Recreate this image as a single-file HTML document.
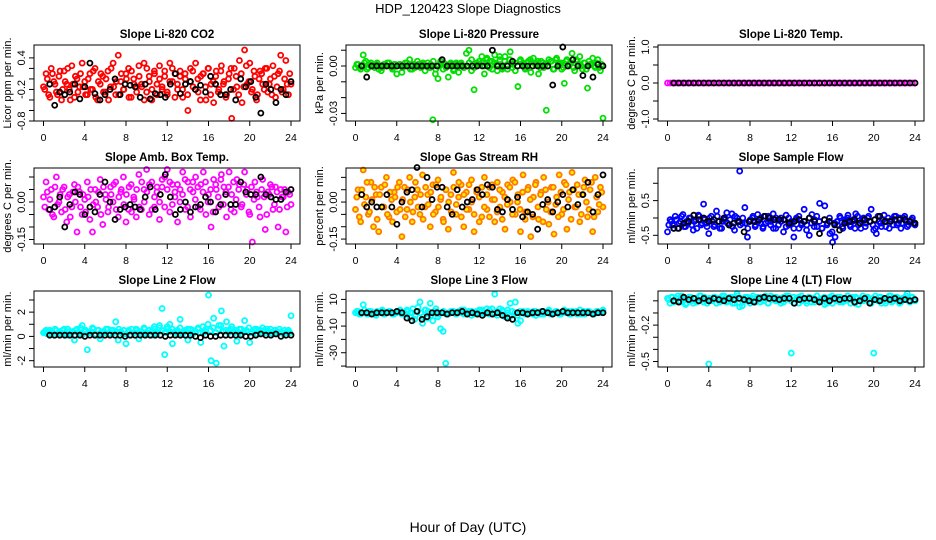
<!DOCTYPE html>
<html><head><meta charset="utf-8"><style>
html,body{margin:0;padding:0;background:#fff}
svg{display:block;font-family:"Liberation Sans",sans-serif}
</style></head><body>
<svg id="chart" width="936" height="540" viewBox="0 0 936 540" xmlns="http://www.w3.org/2000/svg">
<rect x="0" y="0" width="936" height="540" fill="#fff"/>
<text x="468" y="13" text-anchor="middle" font-size="13">HDP_120423  Slope Diagnostics</text>
<text x="468" y="532" text-anchor="middle" font-size="14">Hour of Day (UTC)</text>
</svg>
<script>
const xTicks=[0,4,8,12,16,20,24];
const co2All=[-0.15,0.1,-0.3,0.2,-0.05,-0.25,0.05,-0.4,0.15,-0.1,-0.2,0.25,-0.35,0.0,-0.15,0.3,-0.05,-0.3,0.1,-0.2,0.2,-0.4,-0.1,0.05,-0.25,0.15,-0.15,0.3,-0.3,0.45,-0.05,-0.2,0.1,0.2,-0.35,0.0,-0.15,0.25,-0.1,0.3,-0.25,0.05,-0.4,0.15,-0.1,0.25,-0.2,0.05,-0.3,0.3,-0.05,0.1,-0.2,0.15,-0.35,0.0,-0.6,0.2,-0.15,0.3,-0.25,0.05,0.1,-0.4,0.2,-0.1,-0.45,0.15,-0.2,0.25,-0.05,-0.3,0.1,-0.75,0.2,-0.15,0.35,-0.45,0.55,-0.1,0.3,-0.2,0.05,-0.3,0.15,-0.1,0.2,-0.25,0.0,0.25,-0.35,0.1,0.45,-0.2,0.35,-0.3,-0.1];
const co2AllB=[-0.2,0.0,-0.35,0.1,-0.1,-0.3,0.15,-0.2,-0.05,0.2,-0.4,-0.1,0.05,-0.25,0.1,-0.15,-0.3,0.0,-0.2,0.15,-0.35,-0.05,0.1,-0.25,0.0,-0.4,0.2,-0.15,-0.05,-0.3,0.1,-0.2,0.0,-0.35,0.15,-0.1,-0.25,0.05,-0.15,-0.4,0.2,-0.05,-0.2,0.1,-0.3,0.0,-0.15,0.15,-0.25,-0.05,0.2,-0.35,-0.1,0.05,-0.2,0.1,-0.3,-0.05,0.15,-0.2,0.0,-0.4,0.1,-0.15,0.2,-0.3,-0.05,0.05,-0.25,0.15,-0.1,-0.35,0.0,0.2,-0.2,0.05,-0.3,0.1,-0.15,0.25,-0.05,-0.25,0.15,-0.4,0.0,0.1,-0.2,0.2,-0.1,-0.3,0.05,-0.15,0.15,-0.25,0.0,-0.1,0.1];
const co2Sel=[-0.1,-0.5,-0.25,-0.3,-0.25,-0.1,-0.38,-0.15,0.3,-0.28,-0.4,-0.3,-0.2,0.0,-0.3,-0.1,-0.12,-0.15,-0.35,-0.1,-0.38,-0.28,-0.3,-0.35,-0.1,0.1,-0.28,-0.1,-0.05,-0.2,-0.12,-0.25,0.05,-0.1,-0.3,-0.3,-0.2,-0.4,0.0,-0.15,-0.05,-0.35,-0.65,-0.1,-0.2,-0.45,-0.2,-0.3,-0.05];
const presAll=[-0.001,0.001,-0.002,0.007,0.003,-0.001,0.002,0,0.001,-0.002,-0.003,0.001,0,0.002,-0.001,0.001,-0.005,0.001,-0.004,0,0.002,0.004,-0.002,-0.001,0.003,0,0.001,-0.003,0.002,-0.001,-0.034,-0.005,-0.008,0.003,-0.002,0.001,-0.007,0.002,-0.003,0.001,-0.004,0.002,-0.001,0.008,0.01,-0.003,-0.015,0.002,0.001,0.006,-0.005,0.004,0.003,-0.002,0.007,-0.003,0.004,-0.001,0.006,-0.002,0.009,0.001,-0.003,-0.013,0.004,0.002,-0.001,0.003,-0.004,0.005,0.002,-0.005,0.003,-0.001,-0.028,0.004,0.003,-0.002,0.005,0.002,-0.002,-0.011,0.004,0.001,0.008,-0.003,0.003,0.006,-0.002,0.002,-0.014,0.001,0.005,-0.001,0.004,-0.003,-0.033];
const presAllB=[0.001,-0.001,0,0.002,-0.002,0.001,0,-0.001,0.002,0,-0.001,0.001,0.002,0,-0.002,0.001,0,0.001,-0.001,0.002,0,-0.002,0.001,0,0.001,-0.001,0.002,0,-0.001,0.001,0.003,-0.002,0,0.001,0.002,-0.001,0,0.001,-0.002,0.002,0,0.001,-0.001,0,0.002,0.004,-0.001,0.001,0.003,0.002,0,0.005,-0.001,0.003,0.002,0.001,0.006,-0.002,0.003,0.001,0.004,-0.001,0.002,0,0.003,0.001,-0.002,0.002,0.004,0,0.001,0.003,-0.001,0.002,0.001,0,0.003,-0.002,0.004,0.001,0.002,-0.001,0.003,0,0.002,-0.001,0.004,0.001,0,0.002,-0.002,0.003,0.001,0,0.002,-0.001,0.001];
const presSel=[0,-0.007,0,0,0,0,0,0,0,0,0,0,0,0,0,0,0.004,0,0,0,0,0,0,0,0,0,0.01,0,0,0,0.003,0,0,0,0,0,0,0,-0.012,0,0.012,0,0.004,0,-0.006,0,-0.007,0.001,0];
const tempAll=[0,0,0,0,0,0,0,0,0,0,0,0,0,0,0,0,0,0,0,0,0,0,0,0,0,0,0,0,0,0,0,0,0,0,0,0,0,0,0,0,0,0,0,0,0,0,0,0,0,0,0,0,0,0,0,0,0,0,0,0,0,0,0,0,0,0,0,0,0,0,0,0,0,0,0,0,0,0,0,0,0,0,0,0,0,0,0,0,0,0,0,0,0,0,0,0,0];
const tempAllB=[];
const tempSel=[0,0,0,0,0,0,0,0,0,0,0,0,0,0,0,0,0,0,0,0,0,0,0,0,0,0,0,0,0,0,0,0,0,0,0,0,0,0,0,0,0,0,0,0,0,0,0,0,0];
const ambAll=[0.02,0.08,-0.03,0.05,-0.06,0.1,0.0,-0.04,0.06,-0.08,0.03,-0.02,0.07,-0.12,0.04,-0.05,0.01,0.08,-0.07,-0.12,0.05,-0.02,0.09,-0.09,0.03,-0.04,0.06,0.0,0.08,-0.06,0.04,0.1,-0.08,-0.03,0.07,0.02,-0.06,0.11,-0.03,0.05,0.13,-0.05,0.08,-0.02,0.04,-0.07,0.06,0.1,0.13,-0.04,0.07,0.02,-0.08,0.05,0.12,-0.03,0.08,-0.06,0.04,0.1,-0.02,0.07,0.12,-0.05,0.03,-0.1,0.09,0.05,-0.02,0.11,0.06,-0.06,0.12,0.03,-0.04,0.09,0.07,-0.01,0.12,0.05,-0.05,-0.16,0.08,0.02,-0.06,0.09,-0.11,0.04,0.07,-0.03,0.06,-0.1,0.05,0.02,-0.12,0.04,-0.01];
const ambAllB=[-0.02,0.04,0.01,-0.05,0.06,-0.01,0.03,0.05,-0.03,0.02,-0.06,0.04,0.0,0.06,-0.02,0.03,-0.04,0.02,0.05,-0.01,0.0,0.04,-0.05,0.06,0.01,-0.02,0.03,0.07,-0.03,0.02,0.05,-0.01,0.03,0.06,-0.04,0.01,0.05,-0.02,0.08,0.0,0.04,0.07,-0.03,0.02,0.06,0.0,0.09,-0.02,0.05,0.08,-0.01,0.04,0.07,0.0,0.03,0.09,-0.02,0.05,0.08,0.01,0.06,-0.03,0.04,0.08,0.0,0.05,-0.04,0.07,0.02,0.09,-0.01,0.04,0.06,-0.03,0.08,0.01,0.05,-0.02,0.07,0.03,-0.04,0.06,0.01,0.04,-0.02,0.05,0.02,-0.05,0.03,0.06,-0.01,0.04,-0.03,0.02,0.05,-0.02,0.03];
const ambSel=[-0.03,-0.02,0.02,-0.1,-0.01,0.04,0.03,-0.05,-0.02,-0.04,0.03,0.08,0.0,-0.07,-0.03,-0.02,-0.01,-0.02,-0.03,0.02,0.06,-0.03,0.03,0.11,0.02,-0.05,-0.03,0.0,-0.04,-0.02,-0.01,0.02,0.0,-0.04,-0.01,0.03,-0.01,-0.01,0.08,0.04,0.03,0.03,0.1,0.03,0.02,0.01,0.01,0.04,0.05];
const rhAll=[-0.03,0.05,-0.08,0.13,0.02,-0.05,0.08,-0.1,0.03,-0.12,0.06,-0.02,0.1,-0.06,0.01,0.04,-0.04,0.08,-0.14,0.06,-0.03,0.1,-0.08,0.02,0.05,-0.05,0.11,-0.02,0.03,-0.1,0.07,-0.04,0.09,0.01,-0.07,0.05,-0.11,0.03,0.12,-0.05,0.02,0.07,-0.1,0.04,-0.03,0.09,-0.12,0.05,0.02,-0.06,0.1,-0.03,0.06,0.01,-0.08,0.08,-0.02,0.04,-0.11,0.07,0.0,0.09,-0.05,0.03,-0.12,0.11,-0.04,0.06,-0.14,0.02,0.08,-0.07,0.04,0.1,-0.03,-0.09,0.06,-0.13,0.02,0.11,-0.05,0.08,-0.11,0.04,0.12,-0.02,0.07,-0.08,0.03,0.09,-0.06,0.05,-0.12,0.1,-0.04,0.06,-0.02];
const rhAllB=[0.02,-0.06,0.05,-0.01,0.08,-0.04,0.01,0.06,-0.07,0.03,-0.02,0.07,-0.05,0.04,-0.08,0.02,0.06,-0.03,0.01,-0.06,0.05,0.0,-0.04,0.08,-0.02,0.03,-0.07,0.06,-0.01,0.04,-0.05,0.07,-0.02,0.02,-0.08,0.05,0.0,-0.04,0.06,-0.01,0.08,-0.06,0.03,-0.03,0.07,0.0,-0.05,0.04,-0.08,0.06,-0.02,0.03,-0.06,0.07,0.01,-0.04,0.05,-0.07,0.02,-0.01,0.06,-0.05,0.08,0.0,-0.03,0.04,-0.07,0.05,0.01,-0.06,0.07,-0.02,0.03,-0.08,0.05,0.0,-0.04,0.06,-0.01,-0.06,0.04,-0.03,0.07,0.01,-0.07,0.05,-0.02,0.03,-0.05,0.06,0.0,-0.03,0.08,-0.06,0.02,-0.01,0.04];
const rhSel=[0.03,-0.02,0.0,-0.02,-0.02,0.03,-0.02,-0.09,0.0,0.04,0.05,0.14,-0.02,0.1,0.01,0.06,0.06,-0.02,-0.05,0.05,-0.02,0.0,0.01,0.05,0.03,0.07,0.06,-0.03,-0.04,0.01,-0.03,0.02,-0.06,-0.04,-0.05,-0.11,-0.01,0.01,-0.04,0.0,0.03,-0.02,0.05,-0.01,0.03,0.08,-0.04,0.03,0.11];
const sampAll=[-0.4,-0.05,-0.2,0.05,-0.3,-0.1,0.1,-0.25,-0.15,0.0,-0.35,-0.05,0.08,-0.2,0.4,-0.15,-0.45,0.05,-0.25,0.2,-0.1,-0.3,-0.05,0.15,-0.2,0.12,-0.35,0.0,1.35,-0.15,0.3,-0.55,-0.1,0.0,-0.25,0.1,-0.15,-0.3,0.05,-0.1,-0.2,0.12,-0.3,-0.05,0.0,-0.4,0.08,-0.2,-0.1,-0.55,0.0,-0.3,-0.15,0.25,-0.2,-0.5,0.1,-0.05,-0.25,0.42,-0.3,0.35,-0.15,-0.45,-0.7,-0.55,-0.2,0.0,-0.3,-0.1,0.08,-0.25,-0.05,0.12,-0.2,-0.3,0.0,-0.15,0.05,0.25,-0.35,-0.45,-0.1,-0.25,0.08,-0.1,-0.3,-0.05,0.05,-0.2,0.0,-0.15,0.05,-0.25,-0.1,0.0,-0.2];
const sampAllB=[-0.2,-0.1,-0.3,-0.05,-0.15,0.05,-0.25,-0.1,0.0,-0.2,-0.1,-0.3,0.05,-0.15,-0.05,-0.25,0.0,-0.1,-0.2,0.05,-0.3,-0.1,0.0,-0.15,-0.05,-0.25,0.05,-0.1,-0.2,0.0,-0.15,-0.3,-0.05,0.05,-0.2,-0.1,0.0,-0.25,-0.15,0.05,-0.1,-0.3,0.0,-0.2,-0.1,-0.05,-0.25,0.0,-0.15,-0.3,-0.05,0.05,-0.2,-0.1,-0.35,0.0,-0.15,-0.25,0.05,-0.1,-0.3,-0.05,-0.2,0.0,-0.4,-0.15,-0.1,0.05,-0.25,-0.05,0.0,-0.2,-0.1,-0.3,0.05,-0.15,-0.05,-0.25,0.0,-0.1,-0.2,-0.3,0.05,-0.15,-0.05,-0.25,0.0,-0.1,-0.2,0.05,-0.15,-0.3,0.0,-0.1,-0.2,-0.05,-0.15];
const sampSel=[-0.3,-0.3,-0.15,-0.1,0.08,-0.05,0.0,-0.1,-0.05,-0.1,0.0,-0.2,-0.15,-0.1,-0.4,-0.1,-0.1,-0.05,0.05,0.0,-0.05,-0.05,-0.05,-0.15,-0.1,-0.05,-0.1,0.0,-0.1,-0.45,-0.05,-0.1,-0.2,-0.35,-0.15,-0.1,-0.05,-0.15,-0.05,-0.1,-0.05,0.05,-0.1,-0.1,-0.05,-0.05,-0.05,-0.1,-0.15];
const l2All=[0.3,0.5,0.2,0.4,0.1,0.5,0.3,0.2,0.6,0.1,0.4,0.3,-0.3,0.6,0.2,0.9,0.4,-1.1,0.3,0.7,0.1,0.5,-0.2,0.4,0.3,0.6,0.2,0.5,1.2,-0.3,0.4,0.2,-0.6,0.5,0.1,0.3,0.6,-0.2,0.4,0.7,0.2,0.5,0.1,0.8,0.3,0.9,2.3,-1.5,0.6,1.0,-0.6,0.4,0.2,1.4,0.3,0.5,-0.3,0.6,0.2,0.4,0.7,-0.5,0.3,0.6,3.4,-2.0,1.5,-2.2,0.9,2.1,-0.8,1.2,0.5,0.8,0.3,-0.4,0.6,0.2,1.3,0.4,-0.5,0.3,0.6,0.2,0.5,0.7,0.3,0.4,0.6,0.2,0.5,0.3,0.4,0.2,0.3,0.5,1.7];
const l2AllB=[0.4,0.2,0.5,0.3,0.6,0.2,0.4,0.5,0.3,0.6,0.2,0.4,0.5,0.3,0.7,0.2,0.5,0.3,0.4,0.6,0.2,0.5,0.3,0.4,0.6,0.2,0.5,0.3,0.4,0.6,0.3,0.5,0.2,0.4,0.6,0.3,0.5,0.4,0.2,0.6,0.3,0.5,0.4,0.6,0.2,0.7,0.5,0.3,0.8,0.4,0.6,0.3,0.5,0.7,0.2,0.4,0.6,0.3,0.5,0.4,0.6,0.3,0.8,0.4,1.0,0.5,0.7,0.3,0.6,0.9,0.4,0.5,0.3,0.6,0.4,0.5,0.3,0.6,0.4,0.5,0.7,0.3,0.5,0.6,0.4,0.3,0.5,0.6,0.4,0.3,0.5,0.4,0.6,0.3,0.5,0.4,0.3];
const l2Sel=[0.1,0.1,0.1,0.1,0.1,0.1,0.1,0.0,0.1,0.1,0.1,0.1,0.1,0.1,0.1,0.0,0.1,0.1,0.1,0.1,0.1,0.1,0.1,0.0,0.1,0.1,0.1,0.1,0.1,0.0,-0.1,0.1,0.0,0.0,0.1,0.1,0.1,0.1,0.1,0.0,0.0,0.1,0.2,0.1,0.1,0.2,0.0,0.1,0.1];
const l3All=[0,1,-1,6,0,-1,1,0,-2,0,1,-1,0,1,0,-1,0,1,-1,0,2,-3,0,-5,1,8,-8,2,-4,7,-6,1,-3,-12,-14,-38,-1,0,1,-1,0,2,-1,0,1,-2,0,1,-1,2,0,3,-1,0,14,-2,3,1,-3,2,7,-5,8,-8,-6,1,0,-1,0,1,-2,0,1,-1,0,2,-1,0,1,-1,0,2,0,-1,1,0,-1,2,0,-1,1,0,-1,0,1,0,2];
const l3AllB=[1,-1,0,2,-1,1,0,-1,1,0,2,-1,0,1,-1,0,1,2,0,-1,1,0,3,-2,4,0,-3,2,1,-2,0,3,-1,0,1,-1,0,1,0,-1,1,0,2,-1,0,1,-1,0,2,1,-1,0,2,3,-1,1,0,2,-2,0,-3,1,0,-2,1,0,-1,1,0,-1,1,0,-1,1,0,1,-1,0,1,0,-1,1,0,1,-1,0,1,0,-1,1,0,1,0,-1,1,0,1];
const l3Sel=[0,0,-1,0,0,0,0,1,0,-4,-6,1,-5,-3,0,0,0,-1,0,0,1,-1,0,-1,-2,0,-1,0,-2,-4,-5,0,0,-1,0,0,1,0,-1,0,1,0,0,0,0,0,-1,0,0];
const l4All=[0.02,-0.02,0.03,0.0,0.04,-0.01,0.02,-0.03,0.01,0.03,-0.02,0.02,0.0,0.04,-0.01,0.02,-0.52,0.01,0.03,-0.02,0.02,0.0,0.04,-0.01,0.02,0.03,-0.02,0.06,-0.05,-0.04,0.01,0.03,-0.02,0.02,0.0,0.03,-0.01,0.02,0.04,-0.02,0.01,0.03,0.0,0.02,-0.02,0.03,0.01,0.04,-0.43,-0.02,0.02,0.03,0.0,0.01,-0.02,0.03,0.02,-0.01,0.04,0.0,0.02,-0.03,0.01,0.03,-0.02,0.02,0.0,0.03,-0.01,0.02,0.04,-0.02,0.01,0.03,-0.03,0.02,0.0,0.03,0.02,-0.02,-0.43,0.01,0.03,-0.02,0.02,0.0,0.04,-0.01,0.02,0.03,-0.02,0.02,0.01,0.06,-0.01,0.03,0.0];
const l4AllB=[0.01,0.03,-0.01,0.02,0.0,0.04,0.01,-0.02,0.03,0.0,0.02,-0.01,0.04,0.01,0.03,-0.02,0.02,0.0,0.03,0.01,-0.01,0.04,0.02,0.0,0.03,-0.02,0.01,0.04,0.02,-0.01,0.03,0.0,0.02,0.04,-0.01,0.01,0.03,0.0,0.02,-0.02,0.04,0.01,0.03,0.0,0.02,-0.01,0.04,0.02,0.0,0.03,0.01,-0.02,0.04,0.02,0.0,0.03,-0.01,0.02,0.04,0.01,0.0,0.03,-0.02,0.02,0.04,0.01,0.03,-0.01,0.02,0.0,0.04,0.01,0.03,-0.02,0.02,0.0,0.04,0.01,0.03,-0.01,0.02,0.04,0.0,0.03,0.01,-0.02,0.02,0.04,0.0,0.03,0.01,-0.01,0.02,0.04,0.0,0.03,0.01];
const l4Sel=[0.0,-0.01,0.03,0.01,0.02,0.0,0.02,0.0,0.02,0.01,0.0,0.02,0.01,0.02,0.01,0.0,-0.01,0.02,0.03,0.02,0.02,0.01,0.02,0.02,-0.02,0.01,0.02,0.02,0.01,-0.01,0.02,0.0,0.02,0.01,0.02,0.02,-0.01,0.0,0.02,-0.02,0.01,0.0,0.02,0.01,0.02,0.0,0.01,0.0,0.01];

const NS='http://www.w3.org/2000/svg';
const svg=document.getElementById('chart');
function mk(tag,attrs,parent){const e=document.createElementNS(NS,tag);for(const k in attrs)e.setAttribute(k,attrs[k]);(parent||svg).appendChild(e);return e;}

const panels=[
 {key:'co2',title:'Slope Li-820 CO2',ylab:'Licor ppm per min.',L:34,T:45,B:121,ymin:-0.8,ymax:0.645,ticks:[0.4,0.2,0,-0.2,-0.4,-0.6,-0.8],labels:[[0.4,'0.4'],[-0.2,'-0.2'],[-0.8,'-0.8']],col:'#ff0000',fill:'none',all:co2All,allB:co2AllB,sel:co2Sel},
 {key:'pressure',title:'Slope Li-820 Pressure',ylab:'kPa per min.',L:346,T:45,B:121,ymin:-0.0348,ymax:0.0133,ticks:[0.01,0,-0.01,-0.02,-0.03],labels:[[0,'0.00'],[-0.03,'-0.03']],col:'#00e000',fill:'none',all:presAll,allB:presAllB,sel:presSel},
 {key:'temp',title:'Slope Li-820 Temp.',ylab:'degrees C per min.',L:658,T:45,B:121,ymin:-1.055,ymax:1.055,ticks:[1,0.5,0,-0.5,-1],labels:[[1,'1.0'],[0,'0.0'],[-1,'-1.0']],col:'#ff00ff',fill:'none',all:tempAll,allB:tempAllB,sel:tempSel},
 {key:'ambient',title:'Slope Amb. Box Temp.',ylab:'degrees C per min.',L:34,T:168,B:244,ymin:-0.168,ymax:0.136,ticks:[0.1,0.05,0,-0.05,-0.1,-0.15],labels:[[0,'0.00'],[-0.15,'-0.15']],col:'#ff00ff',fill:'none',all:ambAll,allB:ambAllB,sel:ambSel},
 {key:'rh',title:'Slope Gas Stream RH',ylab:'percent per min.',L:346,T:168,B:244,ymin:-0.17,ymax:0.138,ticks:[0.1,0.05,0,-0.05,-0.1,-0.15],labels:[[0,'0.00'],[-0.15,'-0.15']],col:'#ff7a00',fill:'#ffee00',all:rhAll,allB:rhAllB,sel:rhSel},
 {key:'sample-flow',title:'Slope Sample Flow',ylab:'ml/min per min.',L:658,T:168,B:244,ymin:-0.75,ymax:1.44,ticks:[1,0.5,0,-0.5],labels:[[0.5,'0.5'],[-0.5,'-0.5']],col:'#0000ff',fill:'none',all:sampAll,allB:sampAllB,sel:sampSel},
 {key:'line2',title:'Slope Line 2 Flow',ylab:'ml/min per min.',L:34,T:291,B:367,ymin:-2.52,ymax:3.74,ticks:[3,2,1,0,-1,-2],labels:[[2,'2'],[0,'0'],[-2,'-2']],col:'#00ffff',fill:'none',all:l2All,allB:l2AllB,sel:l2Sel},
 {key:'line3',title:'Slope Line 3 Flow',ylab:'ml/min per min.',L:346,T:291,B:367,ymin:-40.7,ymax:16.3,ticks:[10,0,-10,-20,-30,-40],labels:[[10,'10'],[-10,'-10'],[-30,'-30']],col:'#00ffff',fill:'none',all:l3All,allB:l3AllB,sel:l3Sel},
 {key:'line4',title:'Slope Line 4 (LT) Flow',ylab:'ml/min per min.',L:658,T:291,B:367,ymin:-0.545,ymax:0.081,ticks:[0,-0.1,-0.2,-0.3,-0.4,-0.5],labels:[[-0.2,'-0.2'],[-0.5,'-0.5']],col:'#00ffff',fill:'none',all:l4All,allB:l4AllB,sel:l4Sel}
];
const W=266;
panels.forEach(p=>{
  const g=mk('g',{});
  
  
  const xs=h=>p.L+9.5+h*(247.5/24);
  const ys=v=>p.B-(v-p.ymin)/(p.ymax-p.ymin)*(p.B-p.T);
  const t=mk('text',{x:p.L+W/2,y:p.T-7,'text-anchor':'middle','font-size':11.5,'font-weight':'bold'},g);
  t.textContent=p.title;
  
  
  const yl=mk('text',{transform:`translate(${p.L-23},${(p.T+p.B)/2}) rotate(-90)`,'text-anchor':'middle','font-size':11},g);
  yl.textContent=p.ylab;
  
  
  const pg=mk('g',{},g);
  
  
  const stepA=24/(p.all.length-1);
  p.all.forEach((v,i)=>{
    const c=mk('circle',{cx:xs(i*stepA),cy:ys(v),r:2.5,fill:p.fill,stroke:p.col,'stroke-width':1.8},pg);
    
    
  });
  const stepB=p.allB.length>1?24/(p.allB.length):0;
  p.allB.forEach((v,i)=>{
    const c=mk('circle',{cx:xs((i+0.5)*stepB),cy:ys(v),r:2.5,fill:p.fill,stroke:p.col,'stroke-width':1.8},pg);
    
    
  });
  const kg=mk('g',{},g);
  
  
  const stepK=(24-0.6)/(p.sel.length-1);
  p.sel.forEach((v,i)=>{
    const c=mk('circle',{cx:xs(0.6+i*stepK),cy:ys(v),r:2.5,fill:'none',stroke:'#000','stroke-width':1.8},kg);
    
    
  });
  const box=mk('rect',{x:p.L,y:p.T,width:W,height:p.B-p.T,fill:'none',stroke:'#000','stroke-width':1},g);
  
  
  p.ticks.forEach(v=>{
    const l=mk('line',{x1:p.L,x2:p.L-5,y1:ys(v),y2:ys(v),stroke:'#000'},g);
    
    
  });
  p.labels.forEach(([v,s])=>{
    const tx=mk('text',{transform:`translate(${p.L-9},${ys(v)}) rotate(-90)`,'text-anchor':'middle','font-size':11},g);
    tx.textContent=s;
    
    
  });
  xTicks.forEach(h=>{
    const l=mk('line',{x1:xs(h),x2:xs(h),y1:p.B,y2:p.B+5,stroke:'#000'},g);
    
    
    const tx=mk('text',{x:xs(h),y:p.B+20,'text-anchor':'middle','font-size':10.5},g);
    tx.textContent=h;
    
    
  });
});
</script>
</body></html>
